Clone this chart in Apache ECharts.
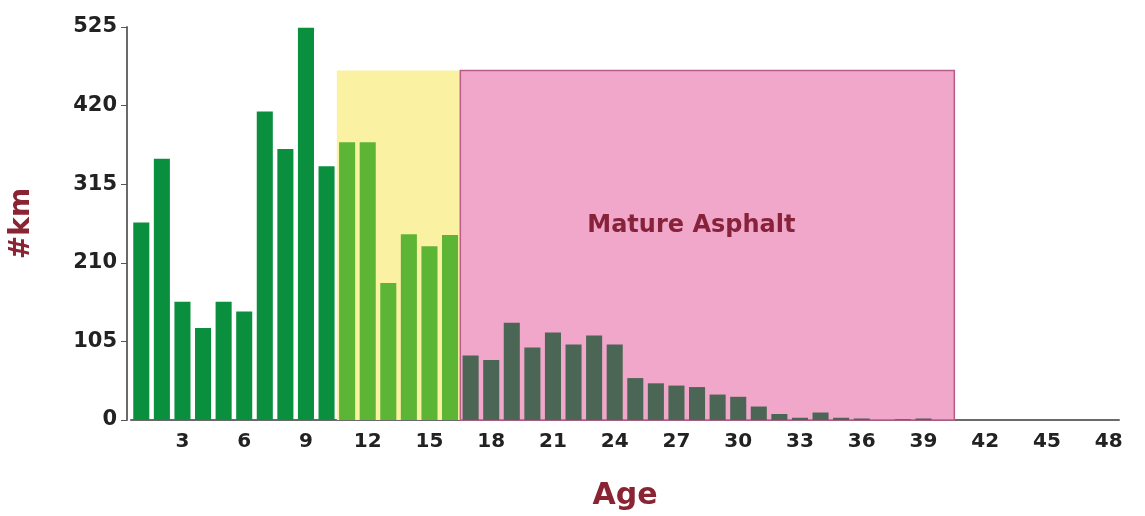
<!DOCTYPE html>
<html>
<head>
<meta charset="utf-8">
<script src="https://cdn.jsdelivr.net/npm/echarts@6/dist/echarts.min.js"></script>
<style>
  html, body { margin: 0; padding: 0; background: #fff; }
  #main { width: 1145px; height: 516px; }
</style>
</head>
<body>
<div id="main"></div>
<script>
// ages 1..48
var ages = []
for (var a = 1; a <= 48; a++) ages.push(String(a))

// km of asphalt per age
var km = [
  264, 349, 158, 123, 158, 145, 412, 362, 524, 339,
  371, 371, 183, 248, 232, 247, 86, 80, 130, 97,
  117, 101, 113, 101, 56, 49, 46, 44, 34, 31,
  18, 8, 3, 10, 3, 2, 0, 1, 2, 0,
  0, 0, 0, 0, 0, 0, 0, 0
]

// age ranges of the shaded zones
var youngZone = [10.5, 16.5]
var matureZone = [16.5, 40.5]
var zoneTop = 467

var yTicks = [0, 105, 210, 315, 420, 525]

var font = 'DejaVu Sans'
var red = '#8a2432'

function barColor(p) {
  var age = p.dataIndex + 1
  if (age <= 10) return '#0a8f3f'
  if (age <= 16) return '#5cb534'
  return '#4b6655'
}

var chart = echarts.init(document.getElementById('main'))
chart.setOption({
  animation: false,
  grid: { left: 130, right: 26, top: 27, bottom: 93 },
  xAxis: [
    {
      type: 'category',
      data: ages,
      name: 'Age',
      nameLocation: 'middle',
      nameGap: 61,
      nameTextStyle: { color: red, fontFamily: font, fontWeight: 'bold', fontSize: 30 },
      axisLine: { lineStyle: { color: '#6a6a6a', width: 2 } },
      axisTick: {
        alignWithLabel: true,
        length: 5,
        interval: function (i) { return (i + 1) % 3 === 0 },
        lineStyle: { color: '#555' }
      },
      axisLabel: {
        interval: function (i) { return (i + 1) % 3 === 0 },
        margin: 12,
        color: '#222',
        fontFamily: font,
        fontWeight: 'bold',
        fontSize: 20
      }
    },
    {
      // hidden value axis used to place the shaded zones
      type: 'value',
      min: 0.5,
      max: 48.5,
      show: false
    }
  ],
  yAxis: {
    type: 'value',
    min: 0,
    max: yTicks[yTicks.length - 1],
    interval: yTicks[1] - yTicks[0],
    offset: 4,
    name: '#km',
    nameLocation: 'middle',
    nameGap: 91,
    nameRotate: 90,
    nameTextStyle: { color: red, fontFamily: font, fontWeight: 'bold', fontSize: 28 },
    splitLine: { show: false },
    axisLine: { show: true, lineStyle: { color: '#6a6a6a', width: 2 } },
    axisTick: { show: true, length: 6, lineStyle: { color: '#555' } },
    axisLabel: {
      margin: 10,
      color: '#222',
      fontFamily: font,
      fontWeight: 'bold',
      fontSize: 21
    }
  },
  series: [
    {
      type: 'line',
      xAxisIndex: 1,
      data: [],
      silent: true,
      markArea: {
        silent: true,
        data: [
          [
            { xAxis: youngZone[0], yAxis: 0, itemStyle: { color: '#fbf1a2' } },
            { xAxis: youngZone[1], yAxis: zoneTop }
          ],
          [
            {
              xAxis: matureZone[0], yAxis: 0,
              name: 'Mature Asphalt',
              itemStyle: { color: '#f0a7ca', borderColor: '#b85c8a', borderWidth: 1.5 },
              label: {
                show: true,
                position: 'inside',
                offset: [-16, -19],
                color: '#86233a',
                fontFamily: font,
                fontWeight: 'bold',
                fontSize: 24
              }
            },
            { xAxis: matureZone[1], yAxis: zoneTop }
          ]
        ]
      }
    },
    {
      type: 'bar',
      data: km,
      barCategoryGap: '22%',
      itemStyle: { color: barColor }
    }
  ]
})
</script>
</body>
</html>
